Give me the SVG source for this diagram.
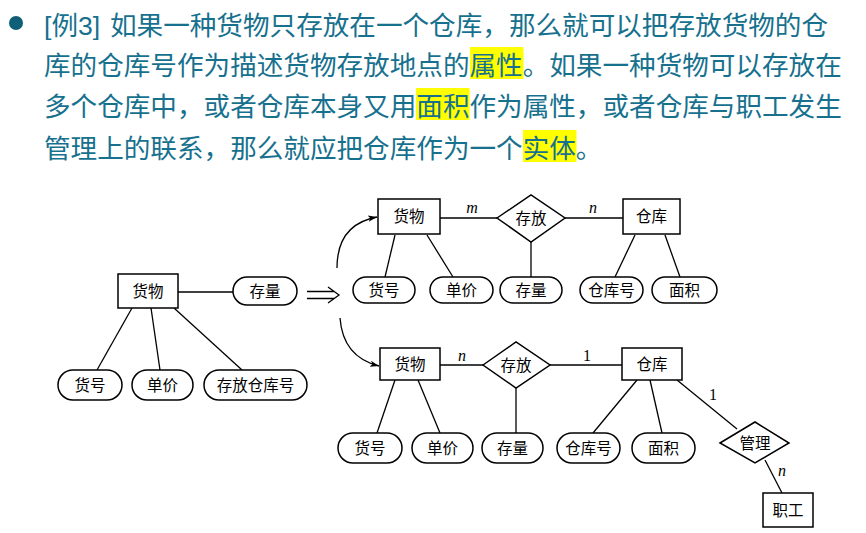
<svg xmlns="http://www.w3.org/2000/svg" width="866" height="533" viewBox="0 0 866 533">
<defs>
<style>
.hd{font-family:"Noto Sans CJK SC","Noto Sans",sans-serif;font-size:26.6px;fill:#17718e}
.hl{fill:#ffff00}
.box{fill:#fff;stroke:#000;stroke-width:1.5}
.ln{fill:none;stroke:#000;stroke-width:1.3}
.t{font-family:"Noto Sans CJK SC",sans-serif;font-size:15.5px;fill:#000;text-anchor:middle}
.c{font-family:"Liberation Serif",serif;font-size:16px;fill:#000;text-anchor:middle}
.ci{font-style:italic}
</style>
<marker id="ah" viewBox="0 0 10 10" refX="10" refY="5" markerWidth="9" markerHeight="9" markerUnits="userSpaceOnUse" orient="auto">
<path d="M0,1.5 L10,5 L0,8.5 L2.5,5 Z" fill="#000"/>
</marker>
</defs>
<rect width="866" height="533" fill="#fff"/>
<g id="header">
<circle cx="16" cy="23" r="7" fill="#0f5f78"/>
<rect class="hl" x="470" y="47" width="53.5" height="32"/>
<rect class="hl" x="416" y="88" width="53.5" height="32"/>
<rect class="hl" x="523" y="130" width="53.5" height="32"/>
<text class="hd" x="44" y="35"><tspan font-family="'Liberation Sans','Noto Sans CJK SC',sans-serif">[</tspan>例<tspan font-family="'Liberation Sans',sans-serif">3] </tspan><tspan x="110">如果一种货物只存放在一个仓库，那么就可以把存放货物的仓</tspan></text>
<text class="hd" x="44" y="75">库的仓库号作为描述货物存放地点的属性。如果一种货物可以存放在</text>
<text class="hd" x="44" y="116">多个仓库中，或者仓库本身又用面积作为属性，或者仓库与职工发生</text>
<text class="hd" x="44" y="158">管理上的联系，那么就应把仓库作为一个实体。</text>
</g>
<g id="connectors">
<line class="ln" x1="178" y1="292" x2="233" y2="292"/>
<line class="ln" x1="132" y1="308" x2="97" y2="370"/>
<line class="ln" x1="151" y1="308" x2="160" y2="370"/>
<line class="ln" x1="174" y1="308" x2="242" y2="370"/>
<path class="ln" stroke-width="1.1" d="M307,291.5 H334 M307,298.5 H334 M328,287 L339,295 L328,303"/>
<path class="ln" d="M337,268 C337,240 350,222 377,217" marker-end="url(#ah)"/>
<path class="ln" d="M340,318 C342,345 355,360 379,366" marker-end="url(#ah)"/>
<line class="ln" x1="440" y1="218" x2="497" y2="218"/>
<line class="ln" x1="565" y1="218" x2="623" y2="218"/>
<line class="ln" x1="395" y1="235" x2="385" y2="277"/>
<line class="ln" x1="427" y1="235" x2="453" y2="277"/>
<line class="ln" x1="531" y1="242" x2="531" y2="277"/>
<line class="ln" x1="635" y1="235" x2="615" y2="277"/>
<line class="ln" x1="665" y1="235" x2="680" y2="277"/>
<line class="ln" x1="440" y1="365" x2="483" y2="365"/>
<line class="ln" x1="550" y1="365" x2="622" y2="365"/>
<line class="ln" x1="395" y1="380" x2="377" y2="433"/>
<line class="ln" x1="418" y1="380" x2="440" y2="433"/>
<line class="ln" x1="516" y1="388" x2="516" y2="433"/>
<line class="ln" x1="637" y1="380" x2="593" y2="433"/>
<line class="ln" x1="650" y1="380" x2="662" y2="433"/>
<line class="ln" x1="677" y1="380" x2="737" y2="429"/>
<line class="ln" x1="765" y1="460" x2="782" y2="493"/>
<text class="c ci" x="472" y="213">m</text>
<text class="c ci" x="593" y="213">n</text>
<text class="c ci" x="462" y="361">n</text>
<text class="c" x="587" y="361">1</text>
<text class="c" x="713" y="400">1</text>
<text class="c ci" x="782" y="476">n</text>
</g>
<g id="l-huowu"><rect class="box" x="118" y="274" width="60" height="34"/><text class="t" x="148" y="297">货物</text></g>
<g id="l-cunliang"><rect class="box" x="233" y="277" width="64" height="28" rx="14"/><text class="t" x="265" y="297">存量</text></g>
<g id="l-huohao"><rect class="box" x="58" y="370" width="64" height="30" rx="15"/><text class="t" x="90" y="391">货号</text></g>
<g id="l-danjia"><rect class="box" x="132" y="370" width="61" height="30" rx="15"/><text class="t" x="162.5" y="391">单价</text></g>
<g id="l-cfckh"><rect class="box" x="204" y="370" width="103" height="30" rx="15"/><text class="t" x="255.5" y="391">存放仓库号</text></g>

<g id="a-huowu"><rect class="box" x="378" y="199" width="62" height="35"/><text class="t" x="409" y="222">货物</text></g>
<g id="a-cunfang"><polygon class="box" points="497,218 531,195 565,218 531,242"/><text class="t" x="531" y="224">存放</text></g>
<g id="a-cangku"><rect class="box" x="623" y="199" width="57" height="35"/><text class="t" x="651.5" y="222">仓库</text></g>
<g id="a-huohao"><rect class="box" x="353" y="277" width="62" height="26" rx="13"/><text class="t" x="384" y="296">货号</text></g>
<g id="a-danjia"><rect class="box" x="430" y="277" width="63" height="26" rx="13"/><text class="t" x="461.5" y="296">单价</text></g>
<g id="a-cunliang"><rect class="box" x="500" y="277" width="62" height="26" rx="13"/><text class="t" x="531" y="296">存量</text></g>
<g id="a-ckh"><rect class="box" x="580" y="277" width="63" height="26" rx="13"/><text class="t" x="611.5" y="296">仓库号</text></g>
<g id="a-mianji"><rect class="box" x="652" y="277" width="65" height="26" rx="13"/><text class="t" x="684.5" y="296">面积</text></g>

<g id="b-huowu"><rect class="box" x="380" y="348" width="60" height="32"/><text class="t" x="410" y="370">货物</text></g>
<g id="b-cunfang"><polygon class="box" points="483,365 516,342 550,365 516,388"/><text class="t" x="516" y="371">存放</text></g>
<g id="b-cangku"><rect class="box" x="622" y="348" width="60" height="32"/><text class="t" x="652" y="370">仓库</text></g>
<g id="b-huohao"><rect class="box" x="338" y="433" width="64" height="30" rx="15"/><text class="t" x="370" y="454">货号</text></g>
<g id="b-danjia"><rect class="box" x="412" y="433" width="61" height="30" rx="15"/><text class="t" x="442.5" y="454">单价</text></g>
<g id="b-cunliang"><rect class="box" x="482" y="433" width="61" height="30" rx="15"/><text class="t" x="512.5" y="454">存量</text></g>
<g id="b-ckh"><rect class="box" x="557" y="433" width="63" height="30" rx="15"/><text class="t" x="588.5" y="454">仓库号</text></g>
<g id="b-mianji"><rect class="box" x="632" y="433" width="63" height="30" rx="15"/><text class="t" x="663.5" y="454">面积</text></g>
<g id="b-guanli"><polygon class="box" points="720,443 755,422 789,443 755,463"/><text class="t" x="755" y="449">管理</text></g>
<g id="b-zhigong"><rect class="box" x="763" y="493" width="50" height="34"/><text class="t" x="788" y="516">职工</text></g>
</svg>
